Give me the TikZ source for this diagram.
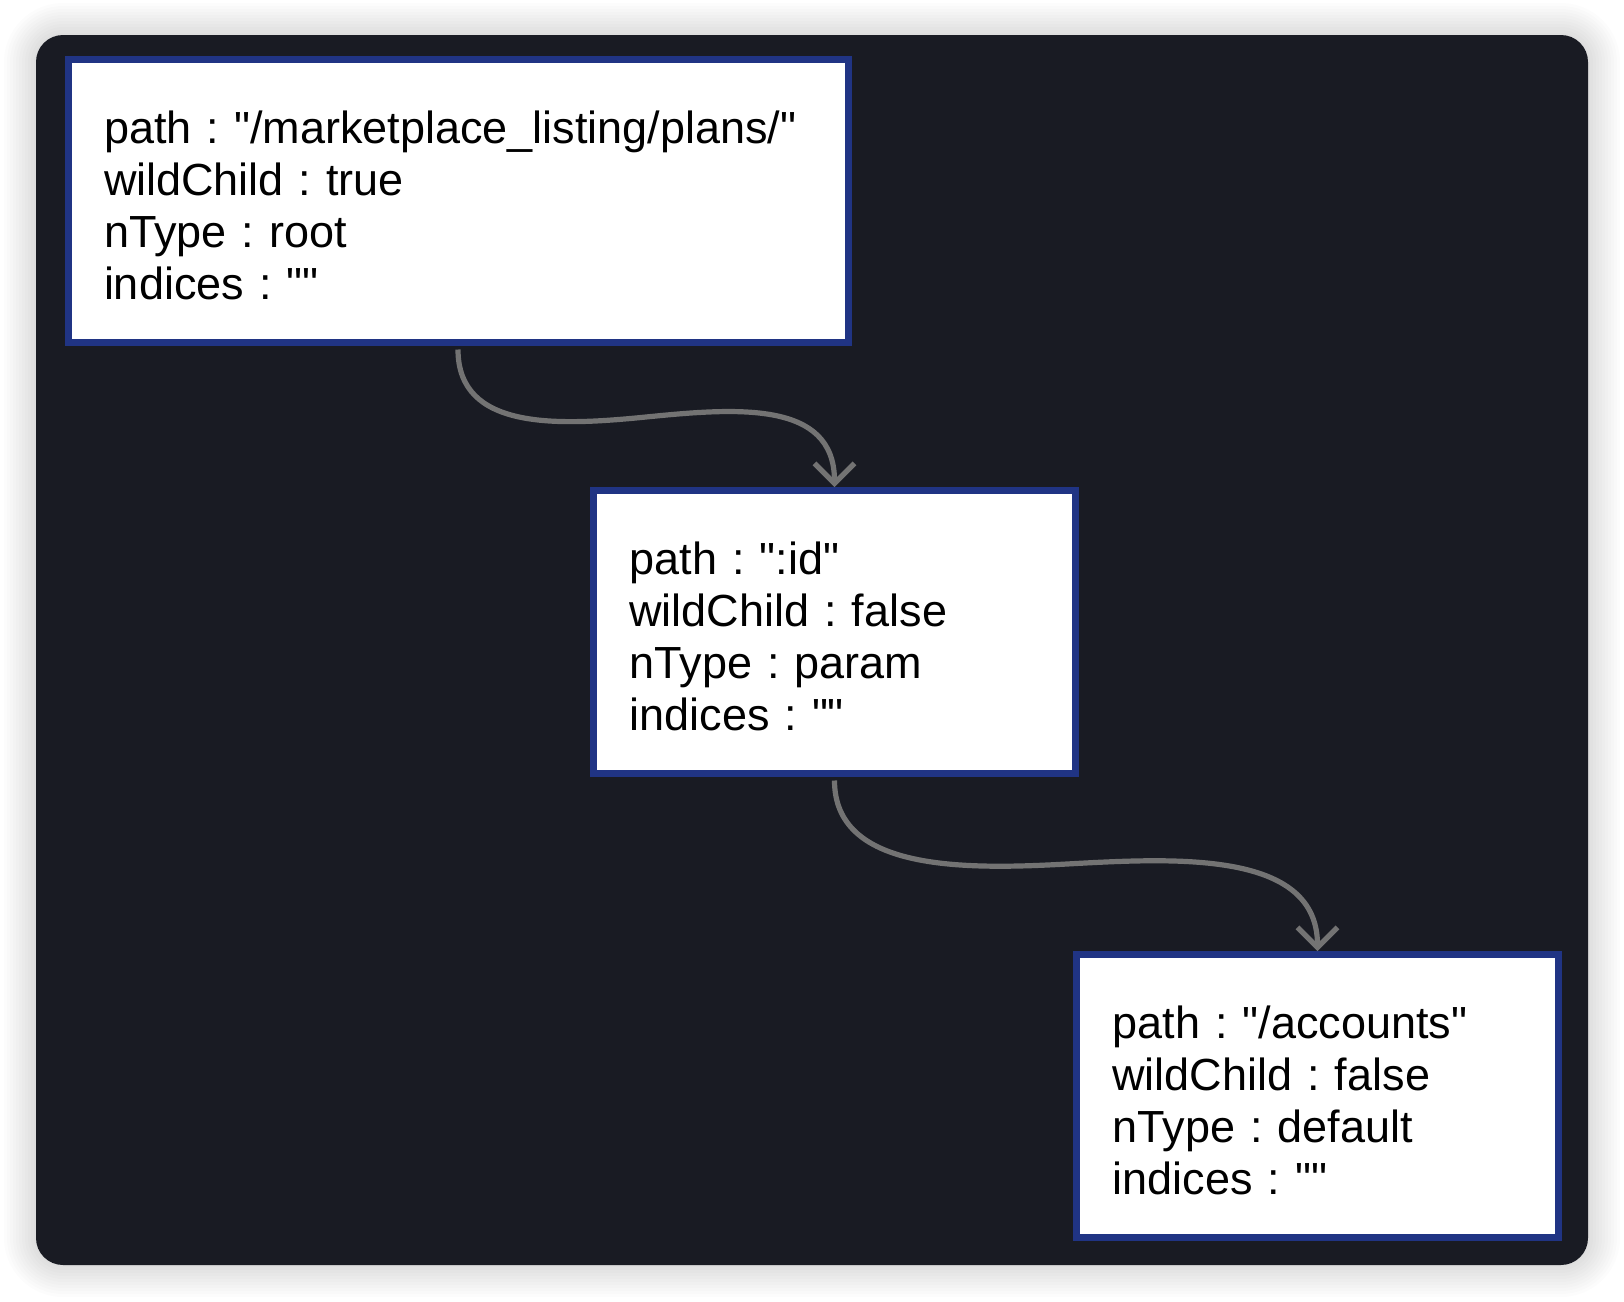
\documentclass[tikz,border=0pt]{standalone}
\usepackage{fontspec}
\setmainfont{Liberation Sans}[Ligatures=TeXOff]
\usetikzlibrary{arrows.meta}

\definecolor{panelbg}{RGB}{25,27,35}
\definecolor{nodeblue}{RGB}{32,52,132}
\definecolor{edgegray}{RGB}{115,115,115}

\tikzset{
  treenode/.style={draw=nodeblue, line width=3.5pt, fill=white, align=left,
    inner xsep=18pt, inner ysep=0pt, minimum height=141.5pt,
    text height=20.5pt, text depth=78pt,
    font=\fontsize{22.5}{26}\selectfont\frenchspacing},
  treeedge/.style={draw=edgegray, line width=2.6pt, shorten <=1.75pt,
    -{Straight Barb[length=10pt,width=20pt,line width=2.6pt]}}
}

\begin{document}
\begin{tikzpicture}[x=0.5pt, y=-0.5pt]
  \useasboundingbox (0,0) rectangle (1624,1302);
  \fill[white] (0,0) rectangle (1624,1302);

  % soft glow round the dark panel
  \foreach \g in {32,29,...,2}
    \fill[black, opacity=0.012, rounded corners=13.5pt+0.5*\g pt]
      (36-\g,35-\g) rectangle (1588+\g,1265+\g);

  % dark panel
  \fill[panelbg, rounded corners=13.5pt] (36,35) rectangle (1588,1265);

  % tree nodes
  \node[treenode, text width=354pt] (root) at (458,201)
    {path : "/marketplace\_listing/plans/"\\wildChild : true\\nType : root\\indices : ""};
  \node[treenode, text width=205pt] (param) at (834.5,632)
    {path : ":id"\\wildChild : false\\nType : param\\indices : ""};
  \node[treenode, text width=205pt] (accounts) at (1317.5,1096)
    {path : "/accounts"\\wildChild : false\\nType : default\\indices : ""};

  % child links
  \draw[treeedge] (root.south) .. controls (458,430) and (556,426) .. (646,417)
    .. controls (736,408) and (834.5,400) .. (param.north);
  \draw[treeedge] (param.south) .. controls (834.5,870) and (960,870) .. (1067,864)
    .. controls (1175,858) and (1317.5,850) .. (accounts.north);

\end{tikzpicture}
\end{document}
